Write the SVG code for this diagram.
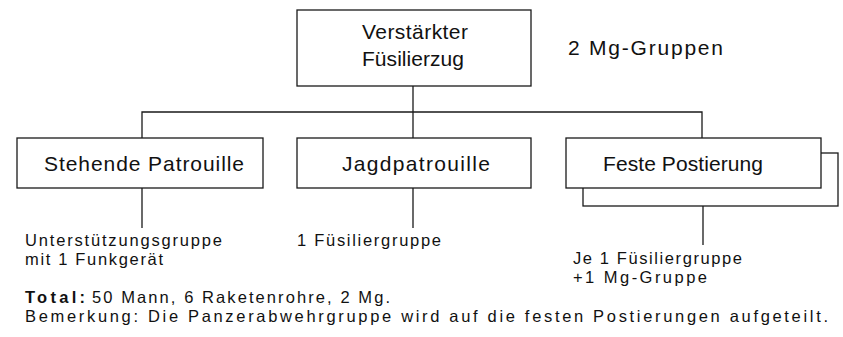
<svg xmlns="http://www.w3.org/2000/svg" width="843" height="337" viewBox="0 0 843 337">
  <style>
    .box { fill: #fff; stroke: #1a1a1a; stroke-width: 1.3; }
    .wire { fill: none; stroke: #1a1a1a; stroke-width: 1.3; }
    .lbl { font-family: "Liberation Sans", Arial, sans-serif; font-size: 21px; fill: #111; }
    .note { font-family: "Liberation Sans", Arial, sans-serif; font-size: 16.5px; fill: #111; }
    .bold { font-weight: bold; }
  </style>
  <rect width="843" height="337" fill="#fff"/>

  <!-- connectors -->
  <g id="connectors">
    <path class="wire" d="M413 86 V138"/>
    <path class="wire" d="M142 138 V112 H702 V138"/>
    <path class="wire" d="M142 188 V228"/>
    <path class="wire" d="M413 188 V228"/>
    <path class="wire" d="M703 206 V245"/>
  </g>

  <!-- command -->
  <g id="zug">
    <rect class="box" x="297" y="10" width="234" height="76"/>
    <text class="lbl" x="362" y="39" textLength="106" lengthAdjust="spacing">Verstärkter</text>
    <text class="lbl" x="362" y="66" textLength="102" lengthAdjust="spacing">Füsilierzug</text>
  </g>
  <g id="mg">
    <text class="lbl" x="568" y="55" textLength="155" lengthAdjust="spacing">2 Mg-Gruppen</text>
  </g>

  <!-- subordinate elements -->
  <g id="stehende">
    <rect class="box" x="17" y="138" width="246" height="50"/>
    <text class="lbl" x="44" y="171" textLength="200" lengthAdjust="spacing">Stehende Patrouille</text>
  </g>
  <g id="jagd">
    <rect class="box" x="297" y="138" width="234" height="50"/>
    <text class="lbl" x="342" y="171" textLength="148" lengthAdjust="spacing">Jagdpatrouille</text>
  </g>
  <g id="feste">
    <rect class="box" x="583" y="153" width="255" height="53"/>
    <rect class="box" x="566" y="138" width="255" height="50"/>
    <text class="lbl" x="603" y="171" textLength="160" lengthAdjust="spacing">Feste Postierung</text>
  </g>

  <!-- strengths -->
  <g id="unterstuetzung">
    <text class="note" x="25" y="246" textLength="197" lengthAdjust="spacing">Unterstützungsgruppe</text>
    <text class="note" x="25" y="264.5" textLength="138" lengthAdjust="spacing">mit 1 Funkgerät</text>
  </g>
  <g id="fuesilier">
    <text class="note" x="297" y="246" textLength="144" lengthAdjust="spacing">1 Füsiliergruppe</text>
  </g>
  <g id="je">
    <text class="note" x="573" y="264" textLength="169" lengthAdjust="spacing">Je 1 Füsiliergruppe</text>
    <text class="note" x="573" y="282.5" textLength="134" lengthAdjust="spacing">+1 Mg-Gruppe</text>
  </g>

  <!-- remarks -->
  <g id="remarks">
    <text class="note bold" x="25" y="303" textLength="60" lengthAdjust="spacing">Total:</text>
    <text class="note" x="92" y="303" textLength="298" lengthAdjust="spacing">50 Mann, 6 Raketenrohre, 2 Mg.</text>
    <text class="note" x="25" y="321.5" textLength="803" lengthAdjust="spacing">Bemerkung: Die Panzerabwehrgruppe wird auf die festen Postierungen aufgeteilt.</text>
  </g>
</svg>
